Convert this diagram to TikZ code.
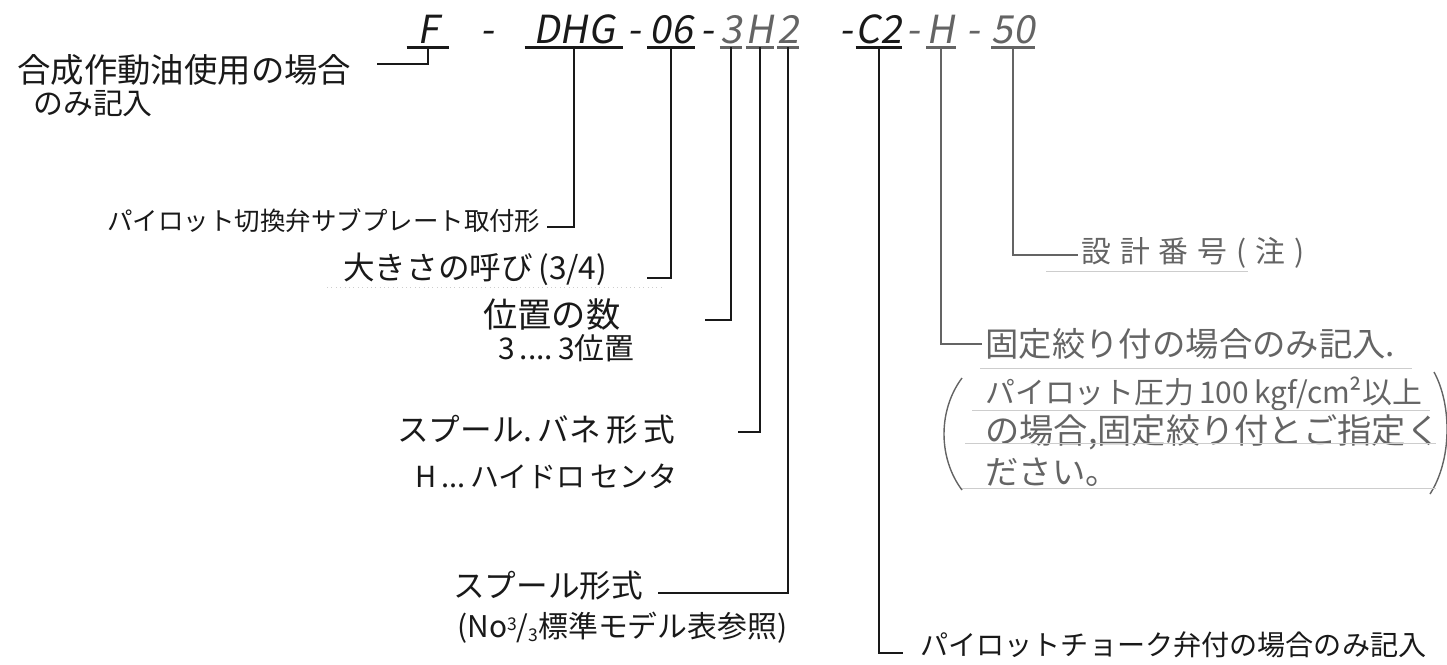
\documentclass[tikz,border=0pt]{standalone}
\usepackage{fontspec}
\setmainfont{Noto Sans CJK JP}
\newfontfamily\codefont[FakeSlant=0.18]{Noto Sans CJK JP}
\newfontfamily\widefont[LetterSpace=30]{Noto Sans CJK JP}
\newcommand{\setfs}[1]{\fontsize{#1}{#1}\selectfont}

\tikzset{
  code/.style={font=\codefont\setfs{22pt}, inner sep=0pt, inner ysep=2pt,
    text depth=0pt, anchor=south},
  hyphen/.style={font=\codefont\setfs{22pt}, inner sep=0pt, anchor=base},
  codeline/.style={line width=1.7pt},
  lead/.style={line width=1.3pt, ink},
  lbl/.style={anchor=west, inner sep=0pt, text=ink},
  faint/.style={rule, line width=0.5pt}
}

\begin{document}
\begin{tikzpicture}[x=0.02cm, y=-0.02cm]
        % Define colors
        \definecolor{ink}{RGB}{25, 25, 25}
        \definecolor{pencil}{RGB}{100, 100, 100}
        \definecolor{rule}{RGB}{205, 205, 205}

        \useasboundingbox (0,0) rectangle (1447,664);

        % --- MODEL CODE ---
        \node[code, text=ink, minimum width=0.84cm] (codeF) at (428,47) {F};
        \node[hyphen, text=ink] (d1) at (487,43) {-};
        \node[code, text=ink, minimum width=1.96cm] (codeDHG) at (574,47) {DHG};
        \node[hyphen, text=ink] (d2) at (634,43) {-};
        \node[code, text=ink, minimum width=0.94cm] (code06) at (671,47) {06};
        \node[hyphen, text=ink] (d3) at (707,43) {-};
        \node[code, text=pencil, minimum width=0.42cm] (code3) at (731,47) {3};
        \node[code, text=pencil, minimum width=0.42cm] (codeH) at (760,47) {H};
        \node[code, text=pencil, minimum width=0.36cm] (code2) at (788,47) {2};
        \node[hyphen, text=ink] (d4) at (846,43) {-};
        \node[code, text=ink, minimum width=0.76cm] (codeC) at (879,47) {C2};
        \node[hyphen, text=pencil] (d5) at (913,43) {-};
        \node[code, text=pencil, minimum width=0.58cm] (codeHb) at (941,47) {H};
        \node[hyphen, text=pencil] (d6) at (973,43) {-};
        \node[code, text=pencil, minimum width=0.84cm] (code50) at (1013,47) {50};

        % underlines
        \foreach \n in {codeF,codeDHG,code06,codeC}
          \draw[codeline, ink] (\n.south west) -- (\n.south east);
        \foreach \n in {code3,codeH,code2,codeHb,code50}
          \draw[codeline, pencil] (\n.south west) -- (\n.south east);

        % --- LEFT LABELS ---
        \node[lbl, font=\setfs{19pt}] (lblOil) at (17,70) {合成作動油使用の場合};
        \node[lbl, font=\setfs{17pt}] (lblOilb) at (33,104) {のみ記入};
        \node[lbl, font=\setfs{14.5pt}] (lblSub) at (107,221) {パイロット切換弁サブプレート取付形};
        \node[lbl, font=\setfs{18pt}] (lblSize) at (343,269) {大きさの呼び\,(3/4)};
        \node[lbl, font=\setfs{19.5pt}] (lblPos) at (483,315) {位置の数};
        \node[lbl, font=\setfs{17pt}] (lblPosb) at (498,348) {3\,....\,3位置};
        \node[lbl, font=\setfs{18pt}] (lblSpr) at (397,430) {スプール.\,バネ\,形\,式};
        \node[lbl, font=\setfs{16.5pt}] (lblSprb) at (415,476) {H\,...\,ハイドロ\,センタ};
        \node[lbl, font=\setfs{18pt}] (lblSpool) at (453,586) {スプール形式};
        \node[lbl, font=\setfs{17pt}] (lblSpoolb) at (457,628)
          {(No\raisebox{.45ex}{\setfs{10pt}3}/\raisebox{-.25ex}{\setfs{10pt}3}標準モデル表参照)};

        % --- RIGHT LABELS ---
        \node[lbl, text=pencil, font=\widefont\setfs{17pt}] (lblDesign) at (1081,253) {設計番号(注)};
        \node[lbl, text=pencil, font=\setfs{19pt}] (lblFix) at (985,344) {固定絞り付の場合のみ記入.};
        \node[lbl, text=pencil, font=\setfs{17pt}] (lblFixb) at (985,394) {パイロット圧力\,100\,kgf/cm²以上};
        \node[lbl, text=pencil, font=\setfs{19.5pt}] (lblFixc) at (985,432) {の場合,固定絞り付とご指定く};
        \node[lbl, text=pencil, font=\setfs{19pt}] (lblFixd) at (985,472) {ださい。};
        \node[lbl, font=\setfs{16pt}] (lblPilot) at (920,645) {パイロットチョーク弁付の場合のみ記入};

        % leader ends
        \coordinate (eOil) at (377,64);
        \coordinate (eSub) at (547,227);
        \coordinate (eSize) at (647,278);
        \coordinate (ePos) at (705,320);
        \coordinate (eSpr) at (738,432);
        \coordinate (eSpool) at (658,593);
        \coordinate (ePilot) at (903,653);
        \coordinate (eFix) at (982,344);
        \coordinate (eDesign) at (1078,255);

        % Leaders
        \draw[lead] (codeF.south) |- (eOil);
        \draw[lead] (codeDHG.south) |- (eSub);
        \draw[lead] (code06.south) |- (eSize);
        \draw[lead] (code3.south) |- (ePos);
        \draw[lead] (codeH.south) |- (eSpr);
        \draw[lead] (code2.south) |- (eSpool);
        \draw[lead] (codeC.south) |- (ePilot);
        \draw[pencil, line width=0.9pt] (codeHb.south) |- (eFix);
        \draw[pencil, line width=0.9pt] (code50.south) |- (eDesign);

        % Bracket and faint rules
        \draw[pencil, line width=0.8pt] (962,378) .. controls (938,410) and (938,458) .. (962,490);
        \draw[pencil, line width=0.8pt] (1434,372) .. controls (1452,405) and (1452,460) .. (1430,494);
        \draw[faint] (1046,271) -- (1248,271);
        \draw[faint] (980,368) -- (1412,368);
        \draw[faint] (972,410) -- (1430,410);
        \draw[faint] (965,443) -- (1436,443);
        \draw[faint] (962,488) -- (1436,488);
        \draw[faint, dotted] (327,287) -- (663,287);
\end{tikzpicture}
\end{document}
